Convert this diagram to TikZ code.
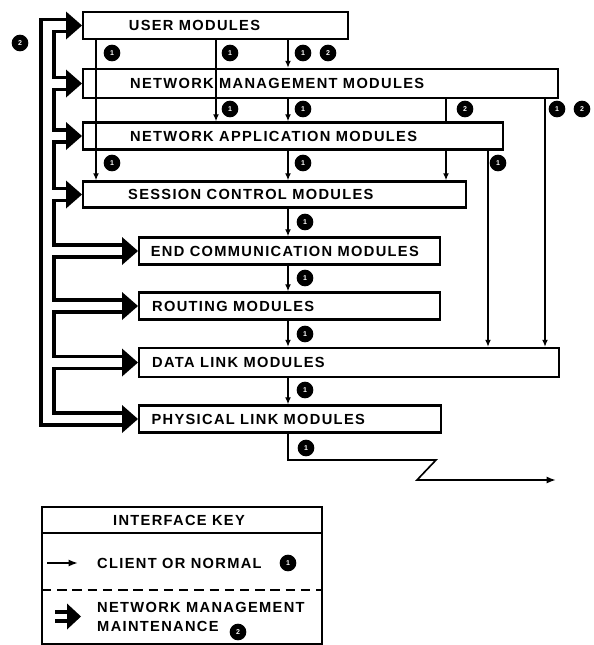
\documentclass[tikz,border=0pt]{standalone}
\usepackage{fontspec}
\newfontfamily\lbl[LetterSpace=9]{Liberation Sans}
\usetikzlibrary{arrows.meta, positioning}

\tikzset{
  modbox/.style={draw, line width=2pt, minimum height=0.81cm, anchor=west, inner sep=0pt},
  modtext/.style={font=\lbl\bfseries\fontsize{12.5}{16.2}\selectfont, inner sep=0pt, anchor=west, align=left},
  cli/.style={line width=1.1pt, -{Latex[length=6pt, width=5pt]}},
  mgmt/.style={line width=3.4pt},
  badge/.style={circle, fill=black, text=white, inner sep=0pt, minimum size=0.5cm,
    font=\lbl\bfseries\fontsize{6}{6}\selectfont}
}

\begin{document}
\begin{tikzpicture}[x=0.03cm, y=-0.03cm]
  \useasboundingbox (0,0) rectangle (594,645);

  % column positions (pixels of the scan)
  \coordinate (cola) at (96,0);
  \coordinate (colb) at (216,0);
  \coordinate (colc) at (288,0);
  \coordinate (cold) at (446,0);
  \coordinate (cole) at (488,0);
  \coordinate (colf) at (545,0);
  \coordinate (outx) at (41,0);
  \coordinate (inx) at (54,0);

  % 1. module boxes
  \node[modbox, minimum width=7.95cm] (user) at (82,25.5) {};
  \node[modbox, minimum width=14.25cm, minimum height=0.87cm] (nm) at (82,83.5) {};
  \node[modbox, minimum width=12.6cm] (na) at (82,136) {};
  \node[modbox, minimum width=11.49cm, minimum height=0.78cm] (sc) at (82,194.5) {};
  \node[modbox, minimum width=9.03cm] (ec) at (138,251) {};
  \node[modbox, minimum width=9.03cm] (rt) at (138,306) {};
  \node[modbox, minimum width=12.6cm, minimum height=0.87cm] (dl) at (138,362.5) {};
  \node[modbox, minimum width=9.06cm] (pl) at (138,419) {};

  % box labels
  \node[modtext, right=1.4cm of user.west] (usert) {USER MODULES};
  \node[modtext, right=1.44cm of nm.west] (nmt) {NETWORK MANAGEMENT MODULES};
  \node[modtext, right=1.44cm of na.west] (nat) {NETWORK APPLICATION MODULES};
  \node[modtext, right=1.38cm of sc.west] (sct) {SESSION CONTROL MODULES};
  \node[modtext, right=0.38cm of ec.west] (ect) {END COMMUNICATION MODULES};
  \node[modtext, right=0.42cm of rt.west] (rtt) {ROUTING MODULES};
  \node[modtext, right=0.42cm of dl.west] (dlt) {DATA LINK MODULES};
  \node[modtext, right=0.4cm of pl.west] (plt) {PHYSICAL LINK MODULES};

  % 2. client (normal) interfaces
  \draw[cli] (user.south -| cola) -- (sc.north -| cola);
  \draw[cli] (user.south -| colb) -- (na.north -| colb);
  \foreach \a/\b in {user/nm, nm/na, na/sc, sc/ec, ec/rt, rt/dl, dl/pl}
    \draw[cli] (\a.south -| colc) -- (\b.north -| colc);
  \draw[cli, -] (nm.south -| cold) -- (na.north -| cold);
  \draw[cli] (na.south -| cold) -- (sc.north -| cold);
  \draw[cli] (na.south -| cole) -- (dl.north -| cole);
  \draw[cli] (nm.south -| colf) -- (dl.north -| colf);

  % line leaving the physical link
  \coordinate (zza) at (436,460);
  \coordinate (zzb) at (417,480);
  \coordinate (zzc) at (556,480);
  \draw[cli, line width=1.4pt, -{Latex[length=8pt, width=6pt]}] (pl.south -| colc) |- (zza) -- (zzb) -- (zzc);

  % 3. network management loops
  \foreach \b in {user, nm, na, sc, ec, rt, dl, pl} {
    \coordinate (\b-up) at ([shift={(-12,-6)}]\b.west);
    \coordinate (\b-lo) at ([shift={(-12,6)}]\b.west);
    \fill (\b.west) -- ++(-16,-14) -- ++(0,28) -- cycle;
  }
  \foreach \a/\b in {user/nm, nm/na, na/sc, sc/ec, ec/rt, rt/dl, dl/pl}
    \draw[mgmt] (\a-lo) -- (\a-lo -| inx) |- (\b-up);
  \draw[mgmt] (user-up) -- (user-up -| outx) |- (pl-lo);

  % 4. interface numbers
  \node[badge] (bla) at (20,43) {2};
  \node[badge] (ba) at (112,53) {1};
  \node[badge] (bb) at (230,53) {1};
  \node[badge] (bc) at (303,53) {1};
  \node[badge] (bd) at (328,53) {2};
  \node[badge] (be) at (230,109) {1};
  \node[badge] (bf) at (303,109) {1};
  \node[badge] (bg) at (465,109) {2};
  \node[badge] (bh) at (557,109) {1};
  \node[badge] (bi) at (582,109) {2};
  \node[badge] (bj) at (112,163) {1};
  \node[badge] (bk) at (303,163) {1};
  \node[badge] (bl) at (498,163) {1};
  \node[badge] (bm) at (305,222) {1};
  \node[badge] (bn) at (305,278) {1};
  \node[badge] (bo) at (305,334) {1};
  \node[badge] (bp) at (305,390) {1};
  \node[badge] (bq) at (306,448) {1};

  % 5. interface key
  \draw[line width=2pt] (42,507) rectangle (322,644);
  \draw[line width=1.4pt] (42,533) -- (322,533);
  \draw[line width=1.8pt, dash pattern=on 8pt off 5pt] (42,590) -- (322,590);
  \node[modtext, anchor=center] (keyhd) at (179,520) {INTERFACE KEY};

  \coordinate (kca) at (47,563);
  \coordinate (kcb) at (78,563);
  \draw[cli, line width=1.8pt, -{Latex[length=8pt, width=6pt]}] (kca) -- (kcb);
  \node[modtext] (kct) at (97,563) {CLIENT OR NORMAL};
  \node[badge] (kcn) at (288,563) {1};

  \coordinate (kma) at (55,612);
  \coordinate (kmb) at (55,621);
  \coordinate (kmc) at (81,616.5);
  \draw[mgmt] (kma) -- ++(15,0) (kmb) -- ++(15,0);
  \fill (kmc) -- ++(-14,-13) -- ++(0,26) -- cycle;
  \node[modtext] (kmt) at (97,617) {NETWORK MANAGEMENT\\MAINTENANCE};
  \node[badge] (kmn) at (238,632) {2};

\end{tikzpicture}
\end{document}
